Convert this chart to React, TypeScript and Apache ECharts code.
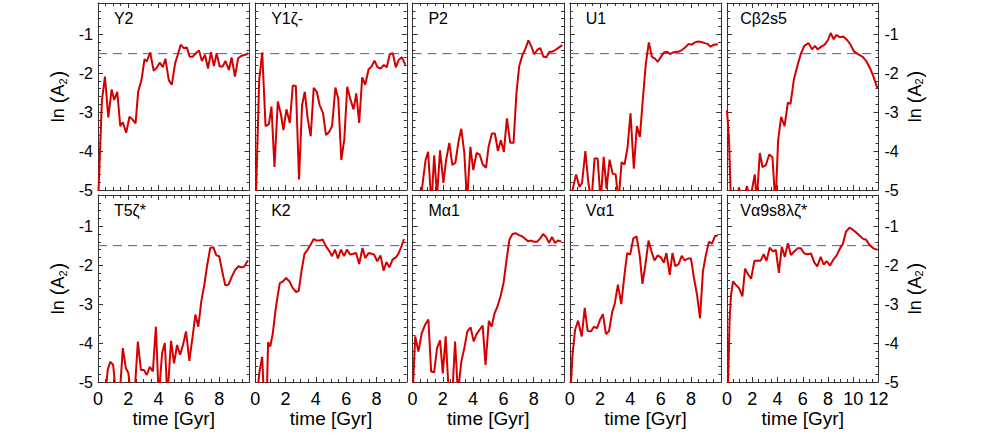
import React, { useEffect, useRef } from "react";
import * as echarts from "echarts";

type Pt = [number, number];

const panelNames = ["Y2", "Y1ζ-", "P2", "U1", "Cβ2s5", "T5ζ*", "K2", "Mα1", "Vα1", "Vα9s8λζ*"];
const timeMax = [10, 10, 10, 10, 12, 10, 10, 10, 10, 12];
const threshold = -1.5;
const yMin = -5;
const yMax = -0.2;

const y2: Pt[] = [[0,-5.4],[0.26,-2.69],[0.46,-2.09],[0.68,-3.14],[0.9,-2.42],[1.07,-2.69],[1.27,-2.48],[1.47,-3.36],[1.64,-3.26],[1.86,-3.53],[2.08,-3.12],[2.3,-3.2],[2.48,-3.29],[2.65,-2.48],[2.87,-2.18],[3.07,-1.64],[3.22,-1.7],[3.44,-1.47],[3.68,-1.94],[3.88,-1.86],[4.08,-1.73],[4.28,-1.85],[4.45,-1.63],[4.67,-2.18],[4.87,-2.3],[5.09,-1.75],[5.24,-1.56],[5.46,-1.27],[5.66,-1.36],[5.86,-1.34],[6.05,-1.58],[6.25,-1.58],[6.45,-1.49],[6.67,-1.42],[6.86,-1.69],[7.06,-1.53],[7.26,-1.88],[7.46,-1.46],[7.65,-1.82],[7.83,-1.49],[8.03,-1.83],[8.22,-1.83],[8.42,-1.69],[8.64,-1.92],[8.82,-1.6],[9.04,-2.09],[9.25,-1.62],[9.45,-1.56],[9.71,-1.53],[9.93,-1.49]];

const y1zeta: Pt[] = [[0.05,-5.1],[0.26,-2.18],[0.46,-1.47],[0.68,-3.36],[0.9,-3.31],[1.07,-2.86],[1.27,-4.41],[1.49,-2.73],[1.69,-3.05],[1.86,-3.46],[2.06,-2.93],[2.28,-3.28],[2.48,-2.32],[2.68,-2.33],[2.89,-4.73],[3.09,-2.82],[3.27,-2.48],[3.46,-3.16],[3.66,-3.62],[3.86,-2.38],[4.06,-2.48],[4.25,-2.82],[4.47,-3.02],[4.67,-3.59],[4.87,-3.51],[5.07,-3.36],[5.29,-2.37],[5.48,-2.66],[5.68,-4.23],[5.88,-3.69],[6.07,-2.35],[6.27,-2.66],[6.49,-2.93],[6.67,-2.52],[6.86,-3.28],[7.06,-2.11],[7.26,-2.3],[7.48,-1.9],[7.68,-1.83],[7.87,-1.68],[8.07,-1.85],[8.27,-1.88],[8.49,-1.79],[8.68,-1.85],[8.88,-1.51],[9.08,-1.49],[9.28,-1.85],[9.47,-1.66],[9.67,-1.59],[9.91,-1.79]];

const p2: Pt[] = [[0.2,-5.6],[0.45,-5.5],[0.86,-4.24],[1.03,-4.02],[1.25,-5.4],[1.43,-4.11],[1.62,-5.15],[1.82,-3.98],[2.04,-4.82],[2.21,-4.25],[2.43,-3.79],[2.63,-4.36],[2.83,-4.3],[3.05,-3.73],[3.22,-3.43],[3.42,-4.05],[3.6,-5.3],[3.82,-3.89],[4.01,-4.49],[4.23,-4.05],[4.43,-4.09],[4.63,-4.34],[4.85,-4.43],[5.02,-3.89],[5.24,-3.55],[5.44,-3.55],[5.64,-4.0],[5.83,-3.72],[6.03,-4.02],[6.23,-3.16],[6.45,-3.79],[6.67,-3.79],[6.86,-2.52],[7.04,-1.83],[7.26,-1.53],[7.43,-1.4],[7.65,-1.16],[7.85,-1.32],[8.03,-1.51],[8.25,-1.4],[8.44,-1.36],[8.64,-1.58],[8.84,-1.59],[9.04,-1.45],[9.23,-1.45],[9.45,-1.4],[9.67,-1.34],[9.89,-1.28]];

const u1: Pt[] = [[0,-5.5],[0.2,-4.97],[0.42,-4.6],[0.64,-4.92],[0.81,-4.82],[1.03,-4.0],[1.23,-4.82],[1.43,-5.3],[1.64,-4.19],[1.84,-4.19],[2.04,-5.3],[2.24,-4.15],[2.43,-4.97],[2.63,-4.22],[2.83,-4.58],[3.03,-4.6],[3.22,-5.3],[3.42,-4.29],[3.62,-4.34],[3.82,-3.89],[4.01,-3.03],[4.23,-4.45],[4.43,-3.36],[4.63,-3.64],[4.82,-2.69],[5.02,-1.76],[5.22,-1.21],[5.42,-1.58],[5.61,-1.62],[5.81,-1.71],[6.01,-1.59],[6.21,-1.47],[6.43,-1.45],[6.62,-1.51],[6.82,-1.47],[7.02,-1.45],[7.21,-1.45],[7.43,-1.4],[7.65,-1.33],[7.85,-1.25],[8.05,-1.27],[8.27,-1.21],[8.46,-1.19],[8.68,-1.2],[8.9,-1.23],[9.1,-1.25],[9.3,-1.32],[9.52,-1.27],[9.78,-1.26]];

const cbeta: Pt[] = [[0,-2.95],[0.16,-3.72],[0.32,-5.4],[0.7,-5.3],[0.95,-4.94],[1.2,-5.3],[1.59,-4.9],[1.8,-5.3],[2.2,-4.6],[2.35,-5.3],[2.6,-4.05],[2.81,-4.41],[3.07,-4.37],[3.34,-4.09],[3.6,-4.16],[3.84,-5.4],[4.05,-3.72],[4.29,-3.12],[4.56,-3.36],[4.82,-2.76],[5.03,-2.79],[5.3,-2.16],[5.56,-1.83],[5.83,-1.52],[6.12,-1.3],[6.46,-1.23],[6.73,-1.39],[6.97,-1.3],[7.18,-1.39],[7.47,-1.32],[7.74,-1.27],[8.0,-1.15],[8.21,-0.97],[8.45,-1.13],[8.66,-1.02],[8.95,-1.08],[9.22,-1.06],[9.51,-1.15],[9.75,-1.25],[10.07,-1.45],[10.41,-1.52],[10.75,-1.58],[11.05,-1.7],[11.34,-1.88],[11.6,-2.09],[11.92,-2.39]];

const t5zeta: Pt[] = [[0.2,-5.8],[0.45,-5.5],[0.64,-4.69],[0.81,-4.48],[1.0,-4.56],[1.18,-5.3],[1.42,-5.4],[1.64,-4.13],[1.84,-4.65],[2.0,-4.76],[2.19,-5.4],[2.4,-5.4],[2.63,-3.96],[2.83,-4.69],[3.03,-4.69],[3.22,-4.82],[3.42,-4.61],[3.62,-4.73],[3.82,-3.58],[4.01,-5.4],[4.23,-4.26],[4.41,-4.0],[4.58,-5.4],[4.82,-3.94],[5.02,-4.52],[5.22,-4.05],[5.42,-4.3],[5.61,-4.05],[5.81,-3.7],[6.03,-4.46],[6.23,-3.88],[6.43,-3.27],[6.62,-3.58],[6.82,-2.93],[7.02,-2.5],[7.21,-1.99],[7.41,-1.56],[7.61,-1.54],[7.81,-1.75],[8.0,-1.77],[8.2,-2.16],[8.4,-2.52],[8.62,-2.5],[8.84,-2.29],[9.06,-2.12],[9.28,-2.03],[9.5,-2.06],[9.67,-2.03],[9.89,-1.88]];

const k2: Pt[] = [[0.1,-5.4],[0.28,-4.73],[0.46,-4.35],[0.57,-5.4],[0.75,-5.5],[0.85,-3.98],[0.99,-4.09],[1.16,-3.75],[1.34,-3.15],[1.49,-2.76],[1.62,-2.46],[1.82,-2.42],[2.04,-2.33],[2.26,-2.42],[2.48,-2.59],[2.7,-2.69],[2.87,-2.66],[3.05,-2.16],[3.25,-1.71],[3.46,-1.6],[3.66,-1.47],[3.86,-1.33],[4.06,-1.37],[4.25,-1.37],[4.45,-1.34],[4.67,-1.52],[4.89,-1.64],[5.07,-1.77],[5.26,-1.6],[5.46,-1.83],[5.66,-1.6],[5.86,-1.77],[6.05,-1.6],[6.27,-1.73],[6.47,-1.71],[6.66,-1.69],[6.86,-1.97],[7.08,-1.56],[7.26,-1.82],[7.48,-1.69],[7.68,-1.71],[7.85,-1.73],[8.05,-1.9],[8.27,-1.75],[8.47,-2.14],[8.66,-1.92],[8.86,-2.06],[9.06,-1.86],[9.28,-1.8],[9.45,-1.71],[9.65,-1.52],[9.82,-1.33]];

const malpha: Pt[] = [[0,-5.4],[0.18,-3.83],[0.39,-4.22],[0.61,-3.75],[0.83,-3.53],[1.05,-3.4],[1.23,-4.73],[1.43,-4.75],[1.62,-4.13],[1.82,-3.93],[2.0,-4.78],[2.19,-3.83],[2.41,-5.4],[2.6,-5.5],[2.81,-3.96],[3.0,-5.3],[3.22,-4.48],[3.42,-4.13],[3.62,-3.7],[3.84,-3.6],[4.04,-3.96],[4.23,-3.77],[4.43,-3.66],[4.63,-3.55],[4.82,-4.56],[5.04,-3.43],[5.22,-3.58],[5.42,-3.23],[5.61,-3.06],[5.81,-2.8],[6.01,-2.46],[6.21,-1.86],[6.4,-1.34],[6.6,-1.2],[6.8,-1.18],[7.02,-1.23],[7.21,-1.26],[7.43,-1.32],[7.63,-1.39],[7.83,-1.37],[8.03,-1.4],[8.22,-1.4],[8.42,-1.32],[8.62,-1.2],[8.82,-1.28],[9.01,-1.43],[9.21,-1.28],[9.41,-1.43],[9.6,-1.37],[9.82,-1.39]];

const valpha: Pt[] = [[0.03,-5.4],[0.18,-4.31],[0.35,-3.66],[0.55,-3.43],[0.79,-3.83],[0.99,-3.1],[1.18,-3.69],[1.4,-3.7],[1.6,-3.58],[1.8,-3.62],[2.0,-3.4],[2.19,-3.26],[2.39,-3.77],[2.59,-3.7],[2.79,-3.23],[2.98,-2.97],[3.18,-2.5],[3.4,-3.0],[3.6,-2.29],[3.79,-1.69],[3.99,-1.73],[4.19,-1.32],[4.41,-1.26],[4.61,-1.73],[4.8,-2.48],[5.0,-1.97],[5.2,-1.37],[5.39,-1.64],[5.59,-1.88],[5.81,-1.75],[6.01,-1.8],[6.21,-1.94],[6.38,-1.69],[6.6,-2.25],[6.78,-1.69],[6.97,-2.03],[7.19,-1.97],[7.39,-1.76],[7.59,-1.88],[7.81,-1.83],[8.0,-1.83],[8.2,-2.33],[8.4,-2.76],[8.6,-3.36],[8.79,-2.16],[8.99,-1.73],[9.19,-1.4],[9.39,-1.45],[9.58,-1.26],[9.78,-1.23]];

const valpha9: Pt[] = [[0.05,-5.5],[0.21,-3.36],[0.32,-2.76],[0.48,-2.42],[0.69,-2.5],[0.95,-2.59],[1.22,-2.8],[1.43,-2.09],[1.67,-2.24],[1.91,-2.35],[2.17,-1.89],[2.41,-1.89],[2.65,-1.89],[2.91,-1.72],[3.13,-1.89],[3.39,-1.55],[3.63,-1.65],[3.87,-1.61],[4.11,-2.2],[4.34,-1.53],[4.58,-1.79],[4.82,-1.44],[5.06,-1.74],[5.32,-1.65],[5.59,-1.57],[5.85,-1.57],[6.12,-1.7],[6.38,-1.72],[6.65,-1.7],[6.91,-1.93],[7.15,-2.03],[7.42,-1.79],[7.66,-1.99],[7.89,-1.9],[8.16,-2.01],[8.42,-1.86],[8.69,-1.75],[8.95,-1.57],[9.17,-1.46],[9.43,-1.14],[9.7,-1.04],[9.96,-1.09],[10.23,-1.16],[10.49,-1.24],[10.75,-1.32],[11.02,-1.35],[11.28,-1.48],[11.6,-1.57],[11.92,-1.61]];

const panelData: Pt[][] = [y2, y1zeta, p2, u1, cbeta, t5zeta, k2, malpha, valpha, valpha9];

const FONT = "'Liberation Sans', Arial, Helvetica, sans-serif";
const DASH_BLUE = "#4a4aff";

export default function App() {
  const ref = useRef<HTMLDivElement>(null);

  useEffect(() => {
    if (!ref.current) return;
    const chart = echarts.init(ref.current, undefined, { renderer: "svg" });

    const colLeft = [98, 255.25, 412.5, 569.75, 727];
    const rowTop = [3, 195];
    const gw = 151.5;
    const gh = 187;
    const frame = "#333";

    const grids: any[] = [];
    const xAxes: any[] = [];
    const yAxes: any[] = [];
    const series: any[] = [];
    const titles: any[] = [];

    panelNames.forEach((name, i) => {
      const row = Math.floor(i / 5);
      const col = i % 5;
      const left = colLeft[col];
      const top = rowTop[row];
      grids.push({ left, top, width: gw, height: gh, containLabel: false });
      const tmax = timeMax[i];
      const baseX = {
        type: "value",
        gridIndex: i,
        min: 0,
        max: tmax,
        interval: 2,
        axisLine: { show: true, onZero: false, lineStyle: { color: frame, width: 1 } },
        axisTick: { show: true, inside: true, length: 5, lineStyle: { color: frame } },
        minorTick: { show: true, splitNumber: 4, length: 3, lineStyle: { color: frame } },
        splitLine: { show: false },
      };
      xAxes.push({
        ...baseX,
        position: "bottom",
        axisLabel: {
          show: row === 1,
          showMaxLabel: col === 4,
          margin: 8,
          fontSize: 18,
          color: "#000",
          fontFamily: FONT,
        },
        name: row === 1 ? "time [Gyr]" : "",
        nameLocation: "middle",
        nameGap: 26,
        nameTextStyle: { fontSize: 19, color: "#000", fontFamily: FONT },
      });
      xAxes.push({ ...baseX, position: "top", axisLabel: { show: false } });

      const baseY = {
        type: "value",
        gridIndex: i,
        min: yMin,
        max: yMax,
        interval: 1,
        axisLine: { show: true, onZero: false, lineStyle: { color: frame, width: 1 } },
        axisTick: { show: true, inside: true, length: 5, lineStyle: { color: frame } },
        minorTick: { show: true, splitNumber: 5, length: 3, lineStyle: { color: frame } },
        splitLine: { show: false },
      };
      const yLabel = {
        fontSize: 16,
        color: "#000",
        fontFamily: FONT,
        formatter: (v: number) => (Math.abs(v - Math.round(v)) < 1e-6 ? String(Math.round(v)) : ""),
      };
      const yName = "ln {p|(}A{sub|2}{p|)}";
      const yNameStyle = {
        fontSize: 18,
        color: "#000",
        fontFamily: FONT,
        rich: {
          p: { fontSize: 20, fontFamily: FONT, color: "#000" },
          sub: { fontSize: 11, fontFamily: FONT, color: "#000", padding: [9, 1, 0, 0] },
        },
      };
      yAxes.push({
        ...baseY,
        position: "left",
        axisLabel: { ...yLabel, show: col === 0, margin: 5 },
        name: col === 0 ? yName : "",
        nameLocation: "middle",
        nameRotate: 90,
        nameGap: 30,
        nameTextStyle: yNameStyle,
      });
      yAxes.push({
        ...baseY,
        position: "right",
        axisLabel: { ...yLabel, show: col === 4, margin: 6 },
        name: col === 4 ? yName : "",
        nameLocation: "middle",
        nameRotate: 90,
        nameGap: 26,
        nameTextStyle: yNameStyle,
      });

      series.push({
        type: "line",
        xAxisIndex: i * 2,
        yAxisIndex: i * 2,
        data: [[0, threshold], [tmax, threshold]],
        color: DASH_BLUE,
        showSymbol: false,
        symbol: "none",
        silent: true,
        z: 1,
        itemStyle: { color: DASH_BLUE },
        lineStyle: { color: DASH_BLUE, width: 1, type: [9, 6], opacity: 1 },
      });

      series.push({
        type: "line",
        xAxisIndex: i * 2,
        yAxisIndex: i * 2,
        data: panelData[i],
        color: "#d40000",
        showSymbol: false,
        symbol: "none",
        clip: true,
        z: 2,
        lineStyle: { color: "#d40000", width: 2 },
      });

      const pxPerGyr = gw / tmax;
      titles.push({
        text: name,
        left: left + 1.05 * pxPerGyr,
        top: top + 7.5,
        padding: 0,
        textStyle: { fontSize: 16, fontWeight: "normal", color: "#000", fontFamily: FONT },
      });
    });

    chart.setOption({
      animation: false,
      backgroundColor: "#fff",
      title: titles,
      grid: grids,
      xAxis: xAxes,
      yAxis: yAxes,
      series,
    });

    return () => chart.dispose();
  }, []);

  return (
    <div
      ref={ref}
      style={{ position: "absolute", left: 0, top: 0, width: 981, height: 435 }}
    />
  );
}
